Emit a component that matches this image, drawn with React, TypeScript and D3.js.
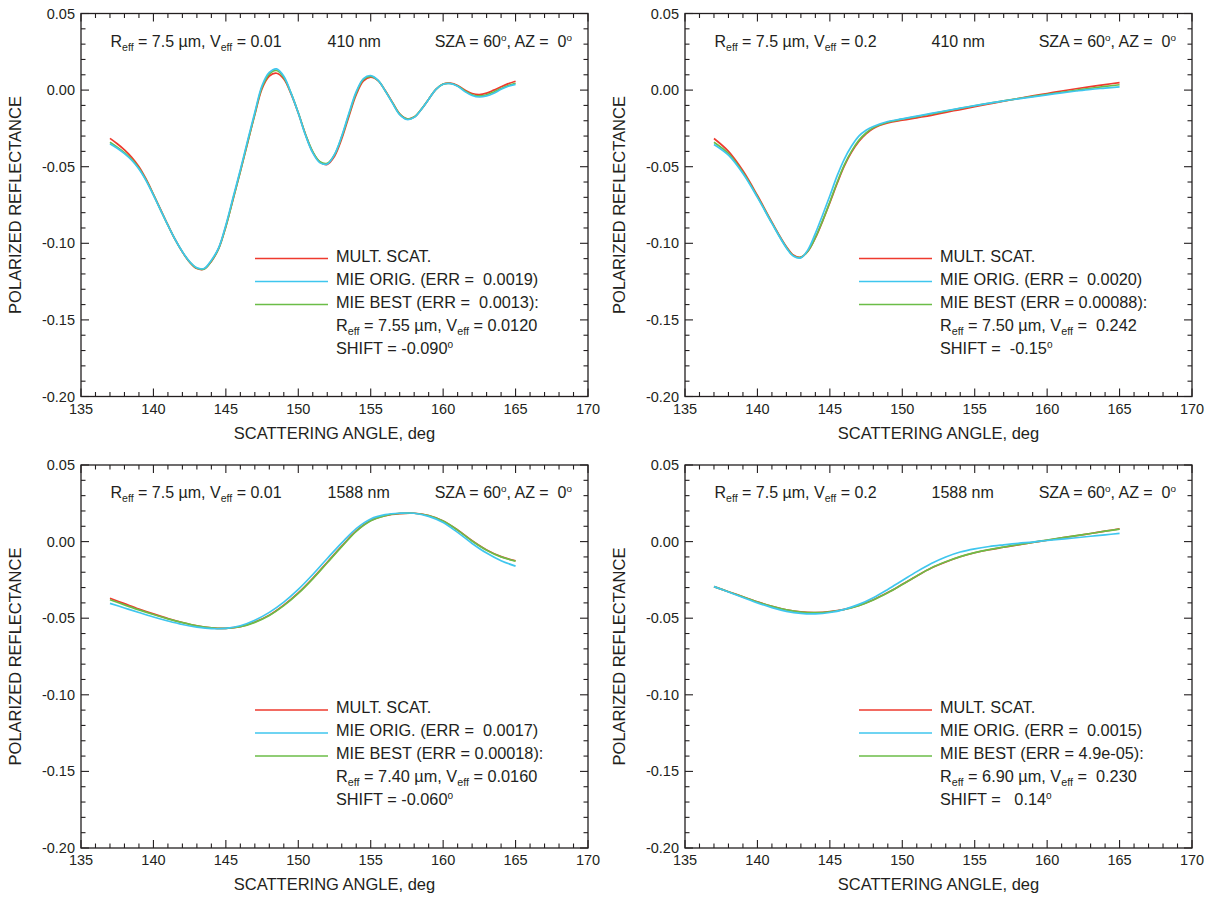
import React from 'react';
import * as d3 from 'd3';

// ---------- data ----------
const ANGLE_FINE = [137, 137.5, 138, 138.5, 139, 139.5, 140, 140.5, 141, 141.5, 142, 142.5, 143, 143.5, 144, 144.5, 145, 145.5, 146, 146.5, 147, 147.5, 148, 148.5, 149, 149.5, 150, 150.5, 151, 151.5, 152, 152.5, 153, 153.5, 154, 154.5, 155, 155.5, 156, 156.5, 157, 157.5, 158, 158.5, 159, 159.5, 160, 160.5, 161, 161.5, 162, 162.5, 163, 163.5, 164, 164.5, 165];
const ANGLE_MID = [137, 138, 139, 140, 141, 142, 142.5, 143, 143.5, 144, 144.5, 145, 145.5, 146, 146.5, 147, 147.5, 148, 149, 150, 151, 152, 153, 154, 155, 156, 157, 158, 159, 160, 161, 162, 163, 164, 165];
const ANGLE_COARSE = [137, 138, 139, 140, 141, 142, 143, 144, 145, 146, 147, 148, 149, 150, 151, 152, 153, 154, 155, 156, 157, 158, 159, 160, 161, 162, 163, 164, 165];

// 410 nm, Veff = 0.01
const TL_MS = [-0.0315, -0.0350, -0.0390, -0.0438, -0.0500, -0.0582, -0.0680, -0.0780, -0.0880, -0.0975, -0.1057, -0.1123, -0.1165, -0.1168, -0.1118, -0.1035, -0.0890, -0.0712, -0.0532, -0.0345, -0.0160, 0.0010, 0.0092, 0.0110, 0.0072, -0.0025, -0.0150, -0.0290, -0.0405, -0.0470, -0.0485, -0.0432, -0.0318, -0.0170, -0.0030, 0.0060, 0.0085, 0.0062, -0.0002, -0.0080, -0.0155, -0.0188, -0.0176, -0.0125, -0.0060, 0.0005, 0.0040, 0.0045, 0.0030, 0.0000, -0.0022, -0.0029, -0.0020, 0.0000, 0.0022, 0.0042, 0.0058];
const TL_ORIG = [-0.0350, -0.0380, -0.0415, -0.0458, -0.0515, -0.0592, -0.0686, -0.0785, -0.0883, -0.0975, -0.1055, -0.1120, -0.1160, -0.1165, -0.1110, -0.1030, -0.0880, -0.0700, -0.0520, -0.0330, -0.0145, 0.0030, 0.0115, 0.0138, 0.0090, -0.0020, -0.0150, -0.0295, -0.0410, -0.0475, -0.0482, -0.0420, -0.0300, -0.0150, -0.0010, 0.0075, 0.0095, 0.0065, -0.0005, -0.0085, -0.0160, -0.0192, -0.0178, -0.0125, -0.0060, 0.0005, 0.0038, 0.0042, 0.0025, -0.0010, -0.0035, -0.0045, -0.0038, -0.0020, 0.0005, 0.0025, 0.0037];
const TL_BEST = [-0.0340, -0.0372, -0.0408, -0.0452, -0.0510, -0.0588, -0.0683, -0.0783, -0.0882, -0.0976, -0.1056, -0.1122, -0.1163, -0.1167, -0.1115, -0.1035, -0.0890, -0.0710, -0.0530, -0.0340, -0.0155, 0.0020, 0.0105, 0.0128, 0.0082, -0.0020, -0.0148, -0.0290, -0.0402, -0.0468, -0.0478, -0.0422, -0.0305, -0.0158, -0.0018, 0.0070, 0.0090, 0.0063, -0.0004, -0.0082, -0.0157, -0.0188, -0.0175, -0.0124, -0.0059, 0.0005, 0.0039, 0.0043, 0.0027, -0.0005, -0.0030, -0.0038, -0.0030, -0.0012, 0.0010, 0.0030, 0.0045];

// 410 nm, Veff = 0.2
const TR_MS = [-0.0316, -0.0400, -0.0527, -0.0688, -0.0862, -0.1022, -0.1078, -0.1090, -0.1050, -0.0965, -0.0855, -0.0735, -0.0610, -0.0495, -0.0405, -0.0335, -0.0285, -0.0250, -0.0215, -0.0197, -0.0181, -0.0165, -0.0145, -0.0127, -0.0108, -0.0090, -0.0072, -0.0055, -0.0038, -0.0022, -0.0006, 0.0009, 0.0023, 0.0036, 0.0049];
const TR_ORIG = [-0.0355, -0.0425, -0.0545, -0.0700, -0.0870, -0.1030, -0.1085, -0.1095, -0.1040, -0.0935, -0.0815, -0.0690, -0.0560, -0.0450, -0.0365, -0.0300, -0.0262, -0.0237, -0.0205, -0.0188, -0.0170, -0.0152, -0.0135, -0.0118, -0.0101, -0.0085, -0.0070, -0.0057, -0.0044, -0.0031, -0.0018, -0.0006, 0.0005, 0.0013, 0.0021];
const TR_BEST = [-0.0340, -0.0415, -0.0538, -0.0695, -0.0867, -0.1027, -0.1082, -0.1092, -0.1048, -0.0962, -0.0852, -0.0730, -0.0603, -0.0488, -0.0398, -0.0328, -0.0280, -0.0246, -0.0210, -0.0190, -0.0173, -0.0155, -0.0137, -0.0119, -0.0102, -0.0086, -0.0070, -0.0055, -0.0041, -0.0027, -0.0014, -0.0001, 0.0012, 0.0024, 0.0035];

// 1588 nm, Veff = 0.01
const BL_MS = [-0.0370, -0.0405, -0.0440, -0.0472, -0.0502, -0.0528, -0.0550, -0.0563, -0.0566, -0.0555, -0.0525, -0.0480, -0.0415, -0.0335, -0.0240, -0.0135, -0.0030, 0.0070, 0.0138, 0.0170, 0.0183, 0.0185, 0.0170, 0.0135, 0.0076, 0.0006, -0.0054, -0.0098, -0.0125];
const BL_ORIG = [-0.0403, -0.0433, -0.0463, -0.0492, -0.0518, -0.0541, -0.0558, -0.0568, -0.0566, -0.0549, -0.0513, -0.0462, -0.0395, -0.0312, -0.0215, -0.0110, -0.0008, 0.0085, 0.0148, 0.0176, 0.0185, 0.0185, 0.0165, 0.0125, 0.0060, -0.0012, -0.0075, -0.0125, -0.0160];
const BL_BEST = [-0.0380, -0.0413, -0.0446, -0.0476, -0.0504, -0.0529, -0.0550, -0.0563, -0.0566, -0.0556, -0.0527, -0.0482, -0.0418, -0.0338, -0.0243, -0.0138, -0.0033, 0.0067, 0.0136, 0.0170, 0.0184, 0.0185, 0.0170, 0.0134, 0.0075, 0.0004, -0.0056, -0.0100, -0.0127];

// 1588 nm, Veff = 0.2
const BR_MS = [-0.0294, -0.0327, -0.0360, -0.0393, -0.0422, -0.0445, -0.0459, -0.0463, -0.0457, -0.0442, -0.0417, -0.0380, -0.0333, -0.0279, -0.0224, -0.0173, -0.0133, -0.0099, -0.0073, -0.0053, -0.0037, -0.0021, -0.0006, 0.0009, 0.0024, 0.0038, 0.0053, 0.0068, 0.0083];
const BR_ORIG = [-0.0294, -0.0329, -0.0365, -0.0400, -0.0431, -0.0455, -0.0469, -0.0472, -0.0463, -0.0442, -0.0410, -0.0366, -0.0312, -0.0254, -0.0196, -0.0143, -0.0100, -0.0068, -0.0047, -0.0032, -0.0021, -0.0011, -0.0003, 0.0007, 0.0016, 0.0025, 0.0035, 0.0044, 0.0054];
const BR_BEST = [-0.0294, -0.0327, -0.0361, -0.0394, -0.0423, -0.0446, -0.0460, -0.0464, -0.0458, -0.0443, -0.0418, -0.0381, -0.0334, -0.0280, -0.0224, -0.0172, -0.0132, -0.0098, -0.0072, -0.0052, -0.0036, -0.0020, -0.0005, 0.0010, 0.0025, 0.0039, 0.0053, 0.0068, 0.0082];

const X_TICKS = [135, 140, 145, 150, 155, 160, 165, 170];
const Y_TICKS = [0.05, 0.0, -0.05, -0.10, -0.15, -0.20];
const X_DOMAIN = [135, 170];
const Y_DOMAIN = [-0.2, 0.05];

const VEFF_LABELS = ['0.01', '0.2', '0.01', '0.2'];
const WAVELENGTHS = ['410 nm', '410 nm', '1588 nm', '1588 nm'];
const ERR_ORIG = ['0.0019', '0.0020', '0.0017', '0.0015'];
const ERR_BEST = [' 0.0013', '0.00088', '0.00018', '4.9e-05'];
const REFF_BEST = ['7.55', '7.50', '7.40', '6.90'];
const VEFF_BEST = ['0.0120', ' 0.242', '0.0160', ' 0.230'];
const SHIFT_BEST = ['-0.090', ' -0.15', '-0.060', '  0.14'];

const SERIES_NAMES = ['MULT. SCAT.', 'MIE ORIG.', 'MIE BEST'];
const COLORS = ['#ee3a2e', '#3fc6ee', '#6bbd47'];

// ---------- layout ----------
const W = 1210;
const H = 899;
const PW = 507;
const PH = 383;
const LEFTS = [81, 685];
const TOPS = [13.5, 465];
const TEXT = '#231f20';
const FONT = '"Liberation Sans", Arial, Helvetica, sans-serif';

type Seg = { t: string; sub?: boolean; sup?: boolean };

function Rich({ x, y, segs, anchor = 'start', size = 16 }: { x: number; y: number; segs: Seg[]; anchor?: string; size?: number }) {
  let shift = 0;
  const spans = segs.map((s, i) => {
    const target = s.sub ? 4 : s.sup ? -6 : 0;
    const dy = target - shift;
    shift = target;
    return (
      <tspan key={i} dy={dy} fontSize={s.sub ? size * 0.66 : s.sup ? size * 0.62 : size}>
        {s.t}
      </tspan>
    );
  });
  return (
    <text x={x} y={y} textAnchor={anchor as any} fontSize={size} fill={TEXT} style={{ whiteSpace: 'pre' }}>
      {spans}
    </text>
  );
}

const fmt = (v: number) => {
  const s = d3.format('.2f')(Math.abs(v) < 1e-9 ? 0 : v);
  return s.replace('\u2212', '-');
};

function Panel({ idx, angles, series }: { idx: number; angles: number[]; series: number[][] }) {
  const left = LEFTS[idx % 2];
  const top = TOPS[Math.floor(idx / 2)];
  const x = d3.scaleLinear().domain(X_DOMAIN).range([left, left + PW]);
  const y = d3.scaleLinear().domain(Y_DOMAIN).range([top + PH, top]);
  const minorX = x.ticks(35);
  const minorY = y.ticks(25);
  const line = d3
    .line<number>()
    .x((_, i) => x(angles[i]))
    .y((d) => y(d))
    .curve(d3.curveCatmullRom.alpha(0.5));

  const MAJ = 8;
  const MIN = 4.5;
  const isMajorX = (v: number) => X_TICKS.some((t) => Math.abs(t - v) < 1e-6);
  const isMajorY = (v: number) => Y_TICKS.some((t) => Math.abs(t - v) < 1e-6);

  const order = [0, 2, 1];
  const legendRows = [
    [{ t: SERIES_NAMES[0] }],
    [{ t: `${SERIES_NAMES[1]} (ERR =  ${ERR_ORIG[idx]})` }],
    [{ t: `${SERIES_NAMES[2]} (ERR = ${ERR_BEST[idx]}):` }],
    [
      { t: 'R' },
      { t: 'eff', sub: true },
      { t: ` = ${REFF_BEST[idx]} \u00b5m, V` },
      { t: 'eff', sub: true },
      { t: ` = ${VEFF_BEST[idx]}` },
    ],
    [{ t: `SHIFT = ${SHIFT_BEST[idx]}` }, { t: 'o', sup: true }],
  ];

  return (
    <g>
      {order.map((k) => (
        <path key={k} d={line(series[k]) || ''} fill="none" stroke={COLORS[k]} strokeWidth={1.7} strokeLinejoin="round" />
      ))}
      <rect x={left} y={top} width={PW} height={PH} fill="none" stroke={TEXT} strokeWidth={1.3} />
      {minorX.map((v) => {
        const len = isMajorX(v) ? MAJ : MIN;
        return (
          <g key={'x' + v}>
            <line x1={x(v)} x2={x(v)} y1={top + PH} y2={top + PH - len} stroke={TEXT} strokeWidth={1.1} />
            <line x1={x(v)} x2={x(v)} y1={top} y2={top + len} stroke={TEXT} strokeWidth={1.1} />
          </g>
        );
      })}
      {minorY.map((v) => {
        const len = isMajorY(v) ? MAJ : MIN;
        return (
          <g key={'y' + v}>
            <line x1={left} x2={left + len} y1={y(v)} y2={y(v)} stroke={TEXT} strokeWidth={1.1} />
            <line x1={left + PW} x2={left + PW - len} y1={y(v)} y2={y(v)} stroke={TEXT} strokeWidth={1.1} />
          </g>
        );
      })}
      {X_TICKS.map((v) => (
        <text key={'xl' + v} x={x(v)} y={top + PH + 17} textAnchor="middle" fontSize={14.5} fill={TEXT}>
          {String(v)}
        </text>
      ))}
      {Y_TICKS.map((v) => (
        <text key={'yl' + v} x={left - 6} y={y(v) + 5} textAnchor="end" fontSize={14.5} fill={TEXT}>
          {fmt(v)}
        </text>
      ))}
      <text x={left + PW / 2} y={top + PH + 42} textAnchor="middle" fontSize={16.5} fill={TEXT}>
        SCATTERING ANGLE, deg
      </text>
      <text
        transform={`translate(${left - 60},${top + PH / 2}) rotate(-90)`}
        textAnchor="middle"
        fontSize={16.5}
        fill={TEXT}
      >
        POLARIZED REFLECTANCE
      </text>
      <Rich
        x={left + 29.5}
        y={top + 33}
        segs={[{ t: 'R' }, { t: 'eff', sub: true }, { t: ' = 7.5 \u00b5m, V' }, { t: 'eff', sub: true }, { t: ` = ${VEFF_LABELS[idx]}` }]}
      />
      <Rich x={left + 246.5} y={top + 33} segs={[{ t: WAVELENGTHS[idx] }]} />
      <Rich
        x={left + 491}
        y={top + 33}
        anchor="end"
        segs={[{ t: 'SZA = 60' }, { t: 'o', sup: true }, { t: ', AZ =  0' }, { t: 'o', sup: true }]}
      />
      {[0, 1, 2].map((k) => (
        <line
          key={'lg' + k}
          x1={left + 174}
          x2={left + 247}
          y1={top + 245 + k * 23}
          y2={top + 245 + k * 23}
          stroke={COLORS[k]}
          strokeWidth={1.7}
        />
      ))}
      {legendRows.map((segs, r) => (
        <Rich key={'lr' + r} x={left + 255} y={top + 248 + r * 23} segs={segs as Seg[]} size={16.3} />
      ))}
    </g>
  );
}

export default function App() {
  const panels = [
    { angles: ANGLE_FINE, series: [TL_MS, TL_ORIG, TL_BEST] },
    { angles: ANGLE_MID, series: [TR_MS, TR_ORIG, TR_BEST] },
    { angles: ANGLE_COARSE, series: [BL_MS, BL_ORIG, BL_BEST] },
    { angles: ANGLE_COARSE, series: [BR_MS, BR_ORIG, BR_BEST] },
  ];
  return (
    <svg
      width={W}
      height={H}
      style={{ position: 'absolute', left: 0, top: 0, background: '#fff' }}
      fontFamily={FONT}
    >
      <rect x={0} y={0} width={W} height={H} fill="#fff" />
      {panels.map((p, i) => (
        <Panel key={i} idx={i} angles={p.angles} series={p.series} />
      ))}
    </svg>
  );
}
